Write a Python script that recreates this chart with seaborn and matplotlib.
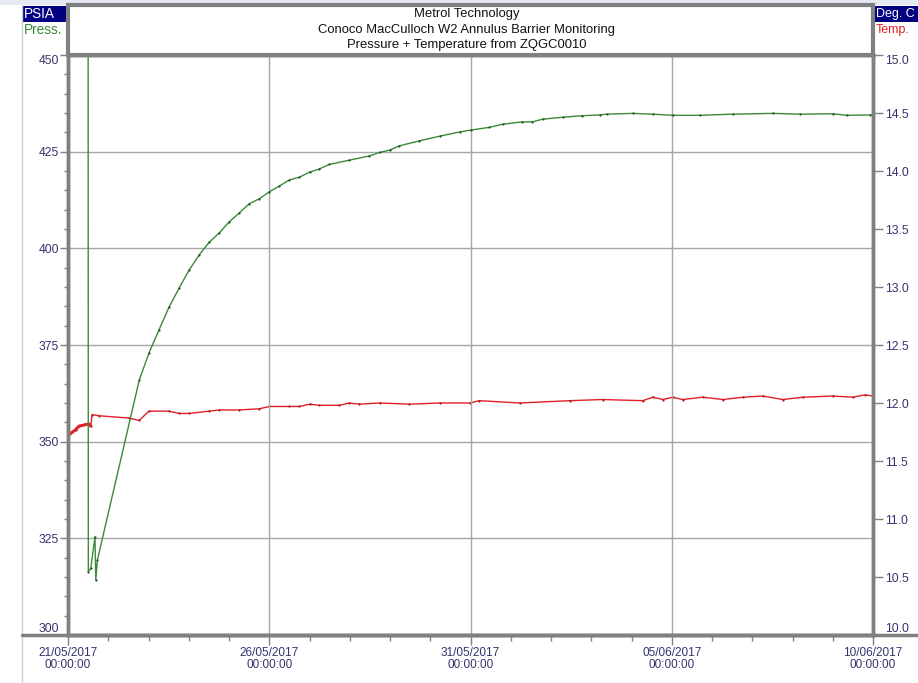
import pandas as pd
import matplotlib
matplotlib.use("Agg")
import matplotlib.pyplot as plt
from matplotlib.patches import Rectangle
from matplotlib.lines import Line2D
import seaborn as sns

# data (days after 21/05/2017 00:00)
start = pd.Timestamp("2017-05-21")

press_day = [0.50, 0.505, 0.565, 0.67, 0.69, 0.73, 1.77, 2.01, 2.26, 2.51, 2.76,
             3.01, 3.26, 3.51, 3.76, 4.00, 4.25, 4.50, 4.75, 5.00, 5.25, 5.50,
             5.75, 6.00, 6.24, 6.49, 6.99, 7.49, 7.74, 7.99, 8.23, 8.73, 9.23,
             9.73, 10.02, 10.47, 10.80, 11.29, 11.54, 11.79, 12.29, 12.78, 13.21,
             13.38, 14.03, 14.53, 15.02, 15.70, 16.52, 17.51, 18.19, 19.00, 19.35,
             19.92, 20.00]
press_psia = [460.0, 316.4, 317.2, 325.4, 314.2, 319.4, 365.9, 372.9, 378.9, 384.8, 389.7,
              394.4, 398.3, 401.6, 404.0, 406.8, 409.1, 411.5, 412.8, 414.6, 416.1, 417.7,
              418.4, 419.7, 420.5, 421.7, 422.8, 423.9, 424.8, 425.4, 426.5, 427.8, 429.0,
              430.1, 430.6, 431.3, 432.1, 432.7, 432.7, 433.4, 433.9, 434.3, 434.5,
              434.7, 434.9, 434.7, 434.4, 434.4, 434.7, 434.9, 434.7, 434.8, 434.4,
              434.5, 434.5]

temp_day = [0.00, 0.19, 0.27, 0.52, 0.565, 0.60, 0.77, 1.52, 1.77, 2.01, 2.51, 2.76,
            3.01, 3.51, 3.76, 4.25, 4.75, 5.00, 5.50, 5.75, 6.00, 6.24, 6.74, 6.99,
            7.24, 7.74, 8.48, 9.23, 9.98, 10.22, 11.22, 12.46, 13.28, 14.28, 14.53,
            14.78, 15.02, 15.27, 15.77, 16.27, 16.77, 17.26, 17.76, 18.26, 19.00,
            19.50, 19.80, 20.00]
temp_degc = [11.72, 11.77, 11.80, 11.82, 11.80, 11.90, 11.89, 11.87, 11.85, 11.93, 11.93, 11.91,
             11.91, 11.93, 11.94, 11.94, 11.95, 11.97, 11.97, 11.97, 11.99, 11.98, 11.98, 12.00,
             11.99, 12.00, 11.99, 12.00, 12.00, 12.02, 12.00, 12.02, 12.03, 12.02, 12.05,
             12.03, 12.05, 12.03, 12.05, 12.03, 12.05, 12.06, 12.03, 12.05, 12.06,
             12.05, 12.07, 12.06]

date_ticks = pd.date_range("2017-05-21", "2017-06-10", freq="5D")
day_ticks = pd.date_range("2017-05-21", "2017-06-10", freq="D")
press_ticks = [300, 325, 350, 375, 400, 425, 450]
press_minor = list(range(300, 451, 5))
temp_ticks = [10.0, 10.5, 11.0, 11.5, 12.0, 12.5, 13.0, 13.5, 14.0, 14.5, 15.0]
title_lines = ["Metrol Technology",
               "Conoco MacCulloch W2 Annulus Barrier Monitoring",
               "Pressure + Temperature from ZQGC0010"]

GREEN = "#3a8a3a"
RED = "#e02028"
FRAME = "#808080"
LABEL = "#33336e"
NAVY = "#000080"

sns.set_style("white")
plt.rcParams["font.family"] = ["Liberation Sans", "DejaVu Sans"]

press = pd.DataFrame({"time": start + pd.to_timedelta(press_day, unit="D"), "psia": press_psia})
temp = pd.DataFrame({"time": start + pd.to_timedelta(temp_day, unit="D"), "degc": temp_degc})
early = temp[temp["time"] <= start + pd.Timedelta(days=0.6)]

W, H = 918, 683
fig = plt.figure(figsize=(W / 100, H / 100), dpi=100)
fig.patch.set_facecolor("white")

# outer decorations of the logger window
fig.add_artist(Rectangle((0, (H - 5) / H), 1, 5 / H, transform=fig.transFigure,
                         facecolor="#e4e9f2", edgecolor="none"))
fig.add_artist(Line2D([22 / W, 22 / W], [0, (H - 5) / H], transform=fig.transFigure,
                      color="#c8cfdb", lw=1))
fig.add_artist(Line2D([22 / W, 1], [48 / H, 48 / H], transform=fig.transFigure,
                      color=FRAME, lw=2.5))

ax = fig.add_axes([68 / W, 48 / H, 805 / W, 580 / H])
ax2 = ax.twinx()

sns.lineplot(data=temp, x="time", y="degc", ax=ax2, color=RED, lw=1.0,
             estimator=None, marker=".", markersize=1.6,
             markeredgecolor="#b01018", markerfacecolor="#b01018")
# the first hours are logged densely, drawn as a heavier trace
sns.lineplot(data=early, x="time", y="degc", ax=ax2, color=RED, lw=2.2, estimator=None)
sns.lineplot(data=press, x="time", y="psia", ax=ax, color=GREEN, lw=1.0,
             estimator=None, sort=False, marker=".", markersize=1.6,
             markeredgecolor="#1d4f1d", markerfacecolor="#1d4f1d")

ax.set_zorder(ax2.get_zorder() + 1)
ax.patch.set_visible(False)

ax.set_xlim(date_ticks[0], date_ticks[-1])
ax.set_ylim(300, 450)
ax2.set_ylim(10, 15)

ax.set_xticks(date_ticks)
ax.set_xticks(day_ticks, minor=True)
ax.set_xticklabels([d.strftime("%d/%m/%Y\n%H:%M:%S") for d in date_ticks],
                   color=LABEL, fontsize=8.5, linespacing=0.95)
ax.set_yticks(press_ticks)
ax.set_yticks(press_minor, minor=True)
ax.set_yticklabels([str(v) for v in press_ticks], color=LABEL, fontsize=8.7)
ax2.set_yticks(temp_ticks)
ax2.set_yticklabels([f"{v:.1f}" for v in temp_ticks], color=LABEL, fontsize=8.7)

# edge labels sit inside the plot height, like the logger software draws them
ax.get_yticklabels()[0].set_va("bottom")
ax.get_yticklabels()[-1].set_va("top")
ax2.get_yticklabels()[0].set_va("bottom")
ax2.get_yticklabels()[-1].set_va("top")

ax.tick_params(axis="x", which="major", direction="out", length=7, width=1,
               color=FRAME, pad=2, bottom=True)
ax.tick_params(axis="x", which="minor", direction="out", length=4, width=1,
               color=FRAME, bottom=True)
ax.tick_params(axis="y", which="major", direction="out", length=6, width=1,
               color=FRAME, pad=0.5, left=True)
ax.tick_params(axis="y", which="minor", direction="out", length=3, width=1,
               color=FRAME, left=True)
ax2.tick_params(axis="y", which="major", direction="out", length=7, width=1,
                color=FRAME, pad=2, right=True)

ax.grid(True, which="major", color="#a6a6a6", lw=1)
ax2.grid(False)
ax.set_xlabel("")
ax.set_ylabel("")
ax2.set_ylabel("")
if ax.get_legend():
    ax.get_legend().remove()

for a in (ax, ax2):
    for side in ("left", "right", "bottom", "top"):
        a.spines[side].set_color(FRAME)
        a.spines[side].set_linewidth(2.5)

# title box over the plot
fig.add_artist(Rectangle((68 / W, (H - 55) / H), 805 / W, 50 / H, transform=fig.transFigure,
                         facecolor="white", edgecolor=FRAME, lw=3, zorder=5))
for i, line in enumerate(title_lines):
    fig.text(467 / W, (H - 14 - i * 15.5) / H, line, ha="center", va="center",
             fontsize=9.4, color="#111111", zorder=6)

# axis unit badges
fig.add_artist(Rectangle((22.5 / W, (H - 22) / H), 44 / W, 16 / H, transform=fig.transFigure,
                         facecolor=NAVY, edgecolor="none"))
fig.text(24 / W, (H - 14) / H, "PSIA", color="white", fontsize=9.8, va="center", ha="left")
fig.text(24 / W, (H - 30) / H, "Press.", color=GREEN, fontsize=9.8, va="center", ha="left")
fig.add_artist(Rectangle((875 / W, (H - 22) / H), 43 / W, 16 / H, transform=fig.transFigure,
                         facecolor=NAVY, edgecolor="none"))
fig.text(876 / W, (H - 14) / H, "Deg. C", color="white", fontsize=9.0, va="center", ha="left")
fig.text(876 / W, (H - 30) / H, "Temp.", color=RED, fontsize=9.0, va="center", ha="left")

fig.savefig("out.png", dpi=100)
